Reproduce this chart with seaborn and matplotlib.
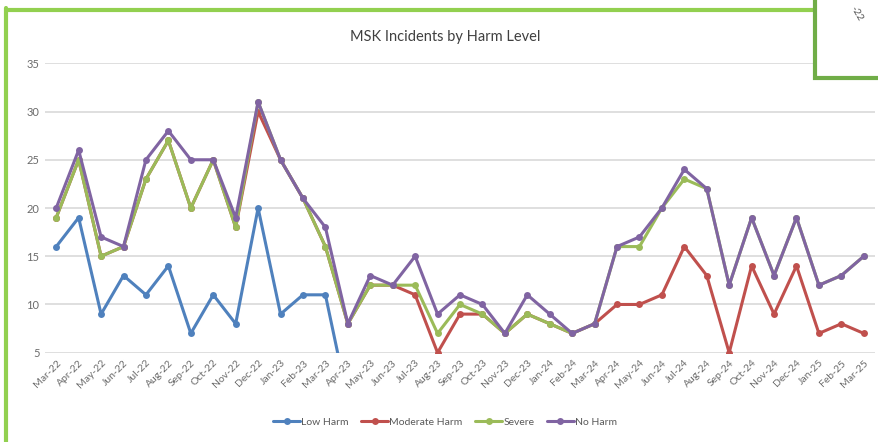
import matplotlib
matplotlib.use('Agg')
import matplotlib.pyplot as plt
import seaborn as sns
import pandas as pd
from matplotlib.patches import Rectangle
from matplotlib.lines import Line2D

#---------------data------------------------------------
months = ['Mar-22', 'Apr-22', 'May-22', 'Jun-22', 'Jul-22', 'Aug-22', 'Sep-22', 'Oct-22',
          'Nov-22', 'Dec-22', 'Jan-23', 'Feb-23', 'Mar-23', 'Apr-23', 'May-23', 'Jun-23',
          'Jul-23', 'Aug-23', 'Sep-23', 'Oct-23', 'Nov-23', 'Dec-23', 'Jan-24', 'Feb-24',
          'Mar-24', 'Apr-24', 'May-24', 'Jun-24', 'Jul-24', 'Aug-24', 'Sep-24', 'Oct-24',
          'Nov-24', 'Dec-24', 'Jan-25', 'Feb-25', 'Mar-25']

low_harm = [16, 19, 9, 13, 11, 14, 7, 11, 8, 20, 9, 11, 11, 0, 0, 0, 0, 0, 0, 0, 0, 0,
            0, 0, 0, 0, 0, 0, 0, 0, 0, 0, 0, 0, 0, 0, 0]
moderate_harm = [19, 25, 15, 16, 23, 27, 20, 25, 18, 30, 25, 21, 16, 8, 12, 12, 11, 5, 9,
                 9, 7, 9, 8, 7, 8, 10, 10, 11, 16, 13, 5, 14, 9, 14, 7, 8, 7]
severe = [19, 25, 15, 16, 23, 27, 20, 25, 18, 31, 25, 21, 16, 8, 12, 12, 12, 7, 10, 9, 7,
          9, 8, 7, 8, 16, 16, 20, 23, 22, 12, 19, 13, 19, 12, 13, 15]
no_harm = [20, 26, 17, 16, 25, 28, 25, 25, 19, 31, 25, 21, 18, 8, 13, 12, 15, 9, 11, 10, 7,
           11, 9, 7, 8, 16, 17, 20, 24, 22, 12, 19, 13, 19, 12, 13, 15]

series = {'Low Harm': low_harm, 'Moderate Harm': moderate_harm,
          'Severe': severe, 'No Harm': no_harm}
colors = ['#4f81bd', '#c0504d', '#9bbb59', '#8064a2']

rows = []
for name, vals in series.items():
    for i, v in enumerate(vals):
        rows.append({'Month': i, 'Count': v, 'Level': name})
df = pd.DataFrame(rows)

#---------------plot-----------------
sns.set_style('white')
plt.rcParams['font.family'] = ['Lato', 'DejaVu Sans']

fig = plt.figure(figsize=(8.79, 4.42), dpi=100)
ax = fig.add_axes([45 / 879, 89.3 / 442, 830 / 879, 289.4 / 442])

sns.lineplot(data=df, x='Month', y='Count', hue='Level', hue_order=list(series.keys()),
             palette=colors, marker='o', markersize=5, markeredgewidth=0,
             linewidth=2.2, ax=ax, legend=True)

ax.set_xlim(-0.5, 36.5)
ax.set_ylim(5, 35)
ax.set_yticks(range(5, 36, 5))
ax.set_xticks(range(len(months)))
ax.set_xticklabels(months, rotation=45, ha='right', rotation_mode='anchor')
ax.tick_params(axis='x', colors='#6b6b6b', labelsize=7.5, length=0, pad=4)
ax.tick_params(axis='y', colors='#6b6b6b', labelsize=8, length=0, pad=4)
ax.grid(axis='y', color='#d9d9d9', linewidth=1.2)
ax.set_axisbelow(True)
for s in ax.spines.values():
    s.set_visible(False)
ax.set_xlabel('')
ax.set_ylabel('')

fig.text(445 / 879, 1 - 37 / 442, 'MSK Incidents by Harm Level', ha='center', va='center',
         fontsize=10.5, color='#404040')

ax.legend(loc='center', bbox_to_anchor=(445 / 879, 1 - 422 / 442),
          bbox_transform=fig.transFigure, ncol=4, frameon=False, fontsize=7.5,
          handlelength=2.6, columnspacing=1.2, handletextpad=0.1,
          labelcolor='#595959')

# green frame of the embedded chart object
fig.add_artist(Line2D([6 / 879, 816 / 879], [1 - 9.5 / 442, 1 - 9.5 / 442],
                      color='#92d050', linewidth=3, transform=fig.transFigure))
fig.add_artist(Line2D([6 / 879, 6 / 879], [0, 1 - 8 / 442],
                      color='#92d050', linewidth=3, transform=fig.transFigure))
box = Rectangle((815 / 879, 1 - 78 / 442), 80 / 879, 90 / 442, facecolor='white',
                edgecolor='#70ad47', linewidth=3, transform=fig.transFigure, zorder=5)
fig.add_artist(box)
t = fig.text(856 / 879, 1 - 14 / 442, '-22', rotation=-60, fontsize=7.5, color='#595959',
             ha='center', va='center', zorder=6)
t.set_clip_path(box)

fig.savefig('out.png', dpi=100)
